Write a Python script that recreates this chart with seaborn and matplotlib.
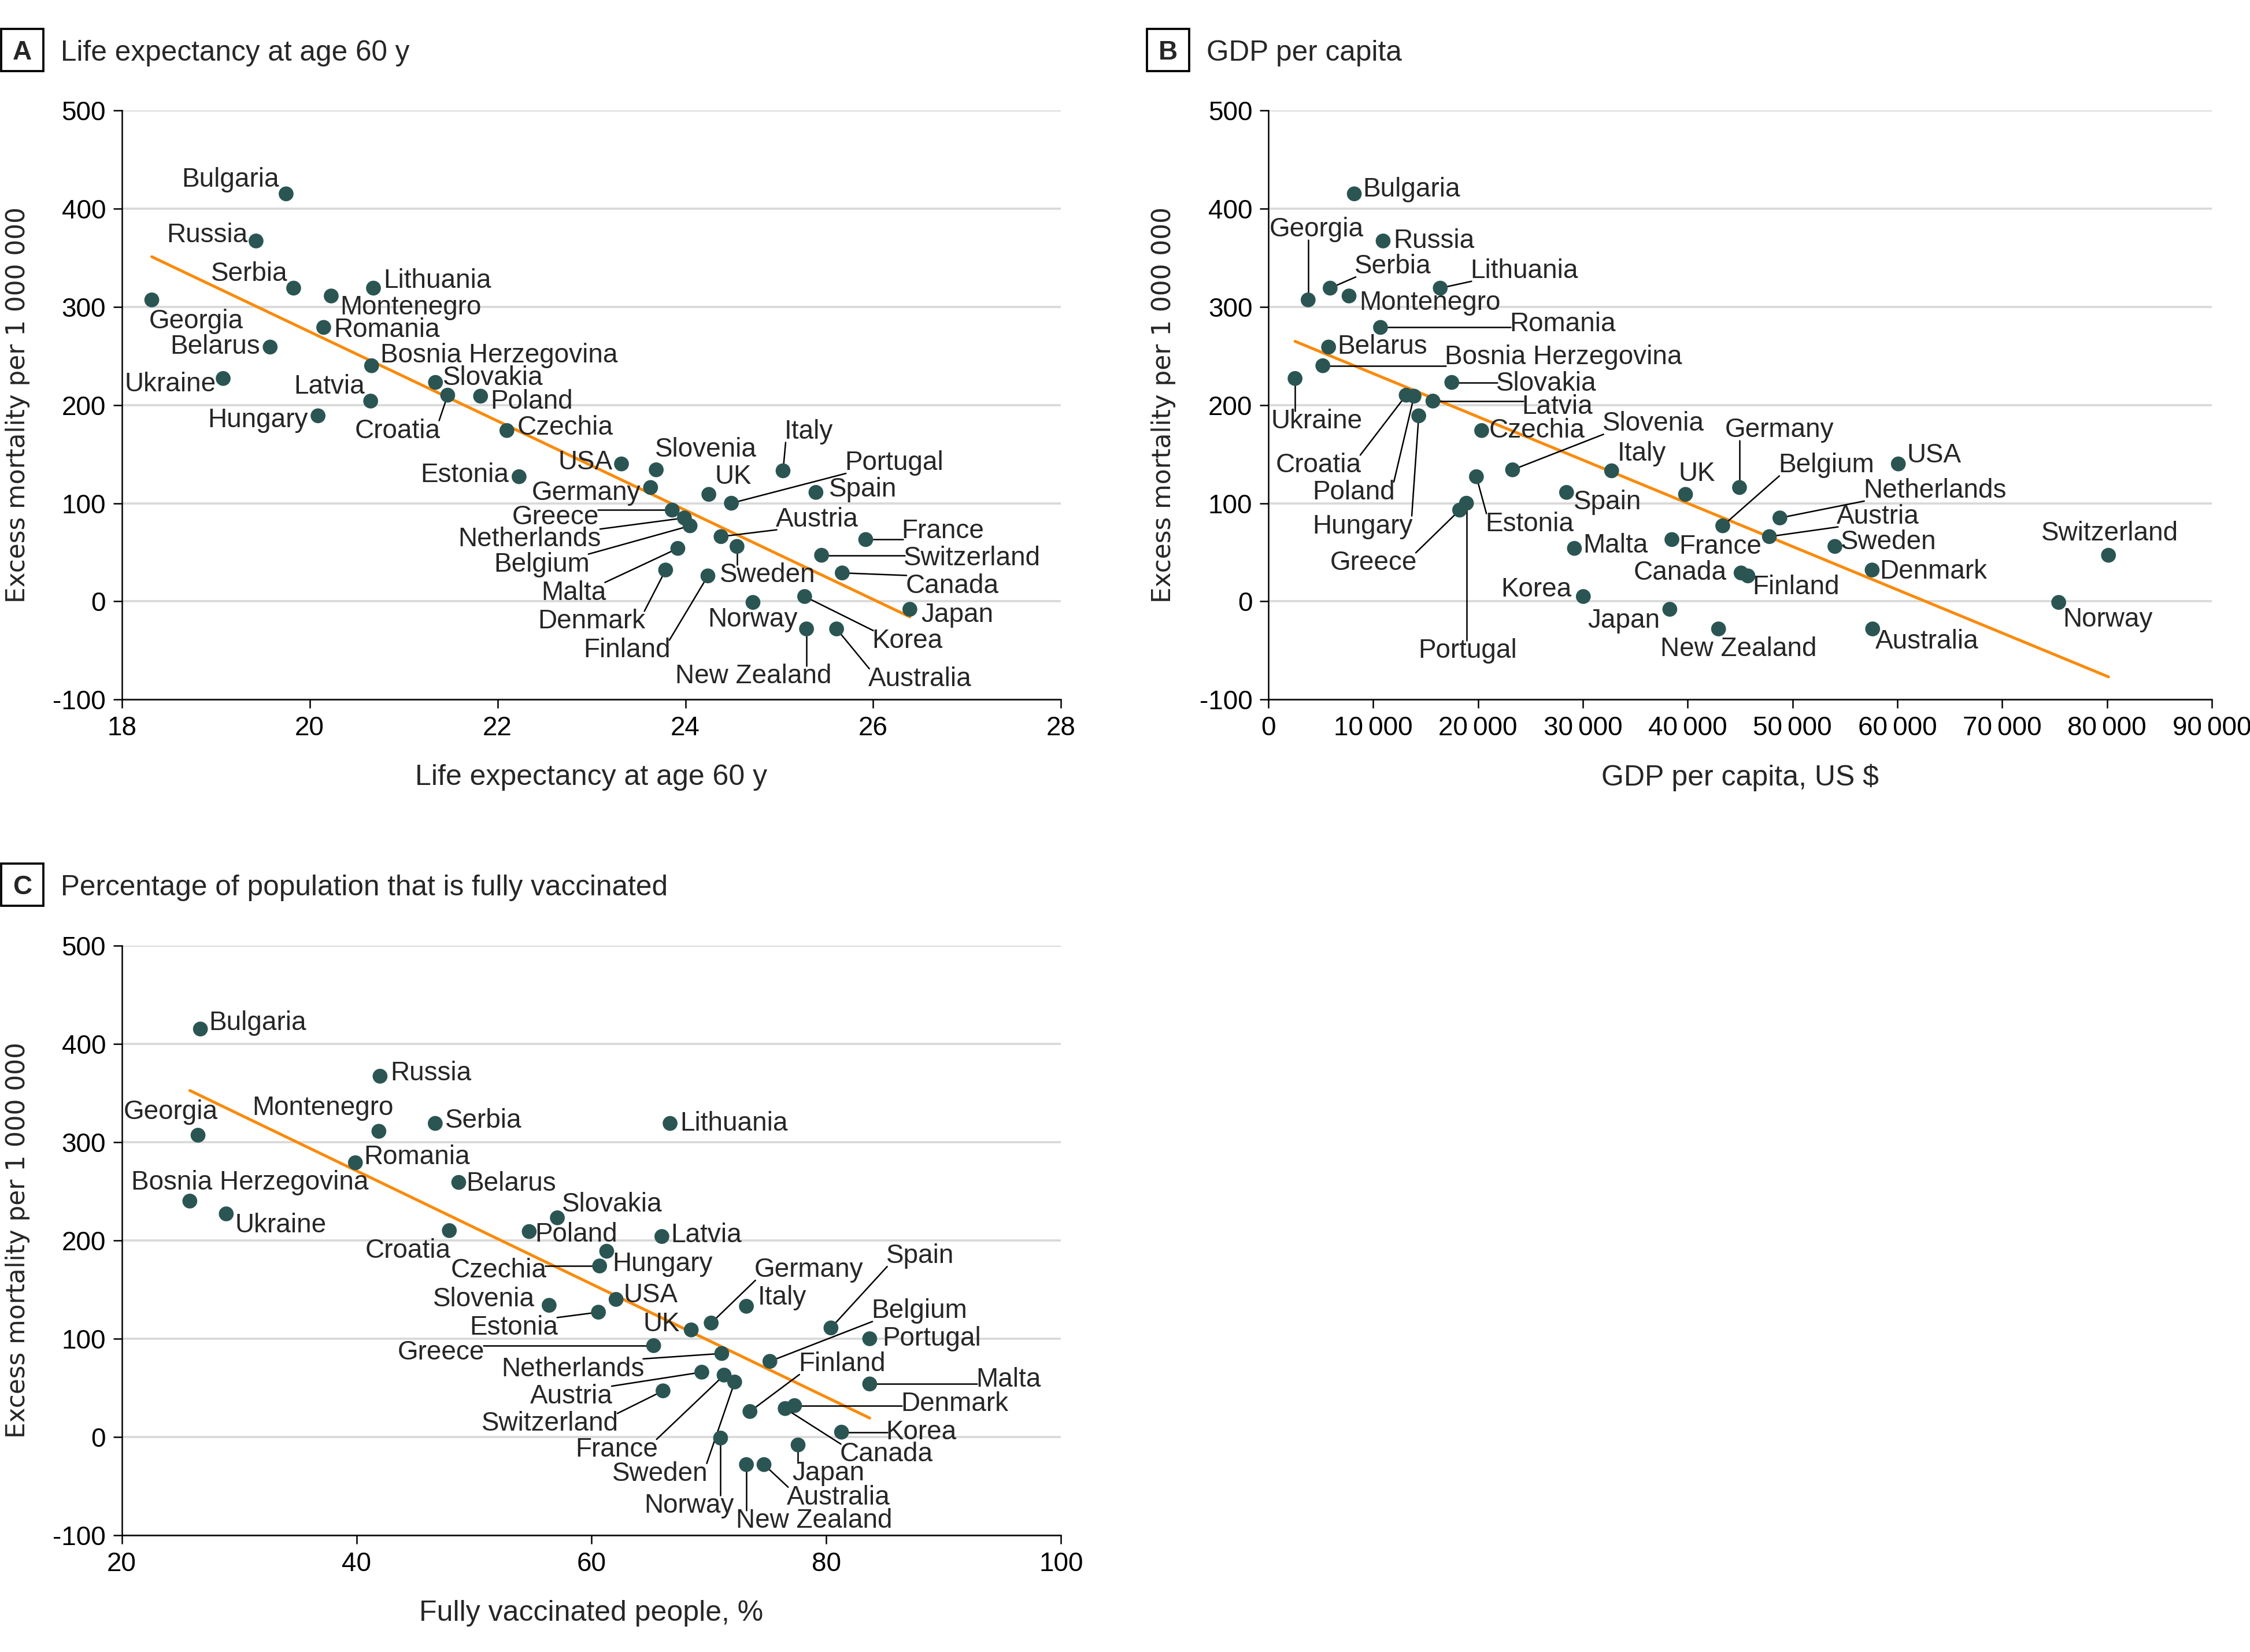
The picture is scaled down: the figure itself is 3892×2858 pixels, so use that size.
import numpy as np
import pandas as pd
import seaborn as sns
import matplotlib.pyplot as plt
from matplotlib.patches import Rectangle

# data
countries = ["Bulgaria", "Russia", "Serbia", "Lithuania", "Montenegro", "Georgia",
             "Romania", "Belarus", "Bosnia Herzegovina", "Ukraine", "Slovakia",
             "Croatia", "Poland", "Latvia", "Hungary", "Czechia", "USA", "Slovenia",
             "Italy", "Estonia", "Germany", "Spain", "UK", "Portugal", "Greece",
             "Netherlands", "Belgium", "Austria", "France", "Sweden", "Malta",
             "Switzerland", "Denmark", "Canada", "Finland", "Korea", "Norway",
             "Japan", "New Zealand", "Australia"]
excess_mortality = [415, 367, 319, 319, 311, 307, 279, 259, 240, 227, 223, 210, 209,
                    204, 189, 174, 140, 134, 133, 127, 116, 111, 109, 100, 93, 85, 77,
                    66, 63, 56, 54, 47, 32, 29, 26, 5, -1, -8, -28, -28]
life_expectancy_60 = [19.75, 19.43, 19.83, 20.68, 20.23, 18.32, 20.15, 19.58, 20.66,
                      19.08, 21.34, 21.47, 21.82, 20.65, 20.09, 22.10, 23.32, 23.69,
                      25.04, 22.23, 23.63, 25.39, 24.25, 24.49, 23.86, 23.99, 24.05,
                      24.38, 25.92, 24.55, 23.92, 25.45, 23.79, 25.67, 24.24, 25.27,
                      24.72, 26.39, 25.29, 25.61]
gdp_per_capita = [8200, 10950, 5900, 16400, 7700, 3800, 10700, 5750, 5200, 2550, 17500,
                  13150, 13900, 15700, 14350, 20350, 60100, 23300, 32750, 19850, 44950,
                  28450, 39800, 18900, 18250, 48800, 43350, 47800, 38500, 54050, 29200,
                  80150, 57600, 45100, 45750, 30050, 75400, 38300, 42950, 57650]
fully_vaccinated = [26.7, 42.0, 46.7, 66.7, 41.9, 26.5, 39.9, 48.7, 25.8, 28.9, 57.1,
                    47.9, 54.7, 66.0, 61.3, 60.7, 62.1, 56.4, 73.2, 60.6, 70.2, 80.4,
                    68.5, 83.7, 65.3, 71.1, 75.2, 69.4, 71.3, 72.2, 83.7, 66.1, 77.3,
                    76.5, 73.5, 81.3, 71.0, 77.6, 73.2, 74.7]

df = pd.DataFrame({"country": countries, "mortality": excess_mortality,
                   "life": life_expectancy_60, "gdp": gdp_per_capita,
                   "vacc": fully_vaccinated})

# label placement: (dx, dy, align, leader line) ; offsets in reference px
labels_a = {
    "Bulgaria": (-5, 10, "r", 0), "Russia": (-6, 4, "r", 0), "Serbia": (-4, 10, "r", 0),
    "Georgia": (-2, -15, "l", 0), "Montenegro": (6, -8, "l", 0), "Lithuania": (7, 5, "l", 0),
    "Romania": (7, -2, "l", 0), "Belarus": (-7, 0, "r", 0), "Bosnia Herzegovina": (6, 7, "l", 0),
    "Ukraine": (-5, -4, "r", 0), "Slovakia": (5, 3, "l", 0), "Latvia": (-4, 10, "r", 0),
    "Poland": (7, -4, "l", 0), "Hungary": (-7, -3, "r", 0), "Croatia": (-35, -25, "c", 1),
    "Czechia": (7, 2, "l", 0), "USA": (-6, 1, "r", 0), "Slovenia": (-1, 14, "l", 0),
    "Estonia": (-7, 1, "r", 0), "Germany": (-7, -4, "r", 0), "UK": (4, 12, "l", 0),
    "Italy": (18, 27, "c", 1), "Portugal": (79, 28, "l", 1), "Spain": (9, 2, "l", 0),
    "Greece": (-51, -5, "r", 1), "Netherlands": (-58, -15, "r", 1), "Belgium": (-70, -27, "r", 1),
    "Malta": (-50, -31, "r", 1), "Denmark": (-14, -36, "r", 1), "Finland": (-26, -52, "r", 1),
    "Austria": (38, 12, "l", 1), "Sweden": (-12, -20, "l", 1), "France": (25, 6, "l", 1),
    "Switzerland": (57, -2, "l", 1), "Canada": (44, -9, "l", 1), "Japan": (8, -4, "l", 0),
    "Korea": (47, -31, "l", 1), "Norway": (0, -12, "c", 0), "New Zealand": (-37, -33, "c", 1),
    "Australia": (58, -35, "c", 1),
}
labels_b = {
    "Bulgaria": (6, 3, "l", 0), "Georgia": (6, 49, "c", 1), "Russia": (7, 0, "l", 0),
    "Serbia": (17, 15, "l", 1), "Montenegro": (7, -5, "l", 0), "Lithuania": (21, 12, "l", 1),
    "Romania": (90, 2, "l", 1), "Belarus": (6, 0, "l", 0), "Bosnia Herzegovina": (85, 6, "l", 1),
    "Ukraine": (15, -30, "c", 1), "Slovakia": (31, -1, "l", 1), "Croatia": (-61, -49, "c", 1),
    "Poland": (-42, -67, "c", 1), "Latvia": (62, -4, "l", 1), "Hungary": (-39, -77, "c", 1),
    "Czechia": (5, 0, "l", 0), "Slovenia": (98, 32, "c", 1), "Estonia": (37, -33, "c", 1),
    "Italy": (21, 12, "c", 0), "Spain": (5, -7, "l", 0), "UK": (8, 14, "c", 0),
    "Germany": (28, 40, "c", 1), "USA": (6, 6, "l", 0), "Portugal": (1, -103, "c", 1),
    "Greece": (-60, -37, "c", 1), "Belgium": (72, 42, "c", 1), "Netherlands": (58, 19, "l", 1),
    "Austria": (47, 14, "l", 1), "France": (5, -5, "l", 0), "Sweden": (4, 3, "l", 0),
    "Malta": (6, 2, "l", 0), "Switzerland": (1, 15, "c", 0), "Denmark": (5, -1, "l", 0),
    "Canada": (-10, 0, "r", 0), "Finland": (3, -8, "l", 0), "Korea": (-8, 5, "r", 0),
    "Japan": (-7, -8, "r", 0), "Norway": (3, -12, "l", 0), "New Zealand": (14, -14, "c", 0),
    "Australia": (2, -9, "l", 0),
}
labels_c = {
    "Bulgaria": (6, 4, "l", 0), "Russia": (7, 2, "l", 0), "Georgia": (-19, 16, "c", 0),
    "Montenegro": (-39, 16, "c", 0), "Serbia": (7, 2, "l", 0), "Lithuania": (7, 0, "l", 0),
    "Romania": (6, 4, "l", 0), "Belarus": (5, -1, "l", 0), "Bosnia Herzegovina": (42, 13, "c", 0),
    "Ukraine": (6, -8, "l", 0), "Slovakia": (3, 9, "l", 0), "Croatia": (1, -14, "r", 0),
    "Poland": (4, -2, "l", 0), "Latvia": (6, 1, "l", 0), "Hungary": (4, -9, "l", 0),
    "Czechia": (-37, -3, "r", 1), "USA": (5, 3, "l", 0), "Slovenia": (-10, 4, "r", 0),
    "Estonia": (-28, -11, "r", 1), "Germany": (68, 37, "c", 1), "Italy": (8, 6, "l", 0),
    "UK": (-8, 4, "r", 0), "Spain": (62, 50, "c", 1), "Portugal": (9, 0, "l", 0),
    "Greece": (-118, -5, "r", 1), "Netherlands": (-54, -11, "r", 1), "Belgium": (104, 35, "c", 1),
    "Finland": (64, 33, "c", 1), "Austria": (-62, -17, "r", 1), "France": (-75, -52, "c", 1),
    "Sweden": (-52, -64, "c", 1), "Switzerland": (-31, -23, "r", 1), "Malta": (74, 3, "l", 1),
    "Denmark": (74, 1, "l", 1), "Canada": (38, -32, "l", 1), "Korea": (31, 0, "l", 1),
    "Japan": (21, -20, "c", 1), "Norway": (-22, -47, "c", 1), "New Zealand": (47, -39, "c", 1),
    "Australia": (52, -23, "c", 1),
}

PX = 0.596  # reference px -> points
DOT = "#2a5553"
ORANGE = "#fa8a0a"
GRID = "#d9d9d9"

sns.set_style("white")
plt.rcParams["font.family"] = ["Liberation Sans", "DejaVu Sans"]
plt.rcParams["axes.unicode_minus"] = False

fig = plt.figure(figsize=(3892 / 300, 2858 / 300), dpi=300)
ax_a = fig.add_axes([0.0541, 0.5765, 0.4175, 0.3567])
ax_b = fig.add_axes([0.5637, 0.5765, 0.4193, 0.3567])
ax_c = fig.add_axes([0.0541, 0.0706, 0.4175, 0.3571])

leaders = []


def panel(ax, col, layout, xlim, xticks, xlabel, fmt=None):
    sns.regplot(data=df, x=col, y="mortality", ax=ax, scatter=False, ci=None,
                color=ORANGE, line_kws=dict(lw=1.2, zorder=2))
    sns.scatterplot(data=df, x=col, y="mortality", ax=ax, s=38, color=DOT,
                    edgecolor="none", zorder=3, legend=False)
    ax.set_xlim(*xlim)
    ax.set_ylim(-100, 500)
    ax.set_xticks(xticks)
    if fmt:
        ax.set_xticklabels([fmt(v) for v in xticks])
    ax.set_yticks(range(-100, 501, 100))
    ax.yaxis.grid(True, color=GRID, lw=0.9)
    ax.set_axisbelow(True)
    for s in ["top", "right"]:
        ax.spines[s].set_visible(False)
    for s in ["left", "bottom"]:
        ax.spines[s].set_color("black")
        ax.spines[s].set_linewidth(0.6)
    ax.tick_params(axis="both", direction="out", length=3.6, width=0.6,
                   labelsize=11, pad=3, colors="black", left=True, bottom=True)
    ax.set_xlabel(xlabel, fontsize=12)
    ax.xaxis.set_label_coords(0.5, -0.132)
    ax.xaxis.label.set_va("center")
    ax.set_ylabel("Excess mortality per 1 000 000", fontsize=10.5, family="DejaVu Sans")
    ax.yaxis.set_label_coords(-0.111, 0.5)
    ax.yaxis.label.set_va("center")

    for _, r in df.iterrows():
        dx, dy, al, line = layout[r["country"]]
        t = ax.annotate(r["country"], xy=(r[col], r["mortality"]),
                        xytext=(dx * PX, dy * PX), textcoords="offset points",
                        ha={"l": "left", "r": "right", "c": "center"}[al],
                        va="center", fontsize=11, zorder=4)
        if line:
            leaders.append((ax, t, r[col], r["mortality"]))


panel(ax_a, "life", labels_a, (18, 28), range(18, 29, 2), "Life expectancy at age 60 y")
panel(ax_b, "gdp", labels_b, (0, 90000), range(0, 90001, 10000), "GDP per capita, US $",
      fmt=lambda v: "0" if v == 0 else f"{v // 1000}\u2009000")
panel(ax_c, "vacc", labels_c, (20, 100), range(20, 101, 20), "Fully vaccinated people, %")

# leader lines from nearest edge of each label to its dot
fig.canvas.draw()
rend = fig.canvas.get_renderer()
for ax, t, x, y in leaders:
    bb = t.get_window_extent(rend)
    px, py = ax.transData.transform((x, y))
    cx = min(max(px, bb.x0 + 2), bb.x1 - 2)
    cy = min(max(py, bb.y0 + 4), bb.y1 - 4)
    sx, sy = ax.transData.inverted().transform((cx, cy))
    ax.plot([sx, x], [sy, y], color="black", lw=0.6, zorder=2.5, clip_on=False)

# panel headers: boxed letter + title
bw, bh = 73 / 3892, 73 / 2858
for bx, by, letter, tx, base, title in [
        (0.0006, 0.957, "A", 0.027, 0.9633, "Life expectancy at age 60 y"),
        (0.5097, 0.957, "B", 0.5362, 0.9633, "GDP per capita"),
        (0.0006, 0.4516, "C", 0.027, 0.458, "Percentage of population that is fully vaccinated")]:
    fig.add_artist(Rectangle((bx, by), bw, bh, transform=fig.transFigure,
                             fc="white", ec="black", lw=0.9))
    fig.text(bx + bw / 2, base + 0.0008, letter, ha="center", va="baseline",
             fontsize=11, fontweight="bold")
    fig.text(tx, base, title, ha="left", va="baseline", fontsize=11.9)

fig.savefig("out.png", dpi=300)
